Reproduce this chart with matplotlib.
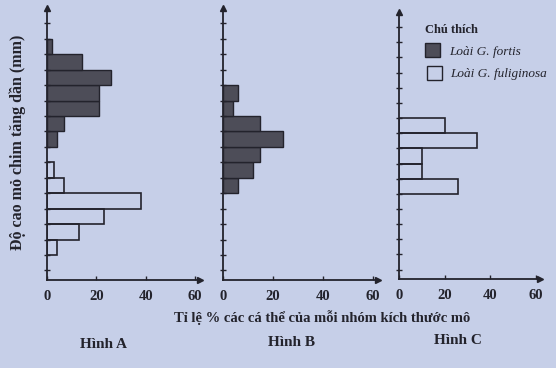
import matplotlib.pyplot as plt
from matplotlib.patches import Rectangle

# bin index 0 = lowest beak-depth group, values in %
bins_a_fortis = [7, 8, 9, 10, 11, 12, 13]
vals_a_fortis = [4, 7, 21, 21, 26, 14, 2]
bins_a_fulig = [0, 1, 2, 3, 4, 5]
vals_a_fulig = [4, 13, 23, 38, 7, 3]

bins_b_fortis = [4, 5, 6, 7, 8, 9, 10]
vals_b_fortis = [6, 12, 15, 24, 15, 4, 6]

bins_c_fulig = [4, 5, 6, 7, 8]
vals_c_fulig = [26, 10, 10, 34, 20]

xticks = [0, 20, 40, 60]
panel_titles = ["Hình A", "Hình B", "Hình C"]

BG = '#c6cfe8'
DARK = '#23232c'
FILL = '#4d4d58'
SERIF = 'Liberation Serif'

fig = plt.figure(figsize=(5.56, 3.68), dpi=100, facecolor=BG)
W, H = 556, 368


def make_axes(x0, px_per_unit, bottom=280, top=8):
    ax = fig.add_axes([x0 / W, (H - bottom) / H, 62 * px_per_unit / W, (bottom - top) / H])
    ax.set_facecolor('none')
    ax.set_xlim(0, 62)
    ax.set_ylim(-1.62, 16.0)
    for s in ['top', 'right']:
        ax.spines[s].set_visible(False)
    for s in ['left', 'bottom']:
        ax.spines[s].set_color(DARK)
        ax.spines[s].set_linewidth(1.3)
    ax.set_xticks(xticks)
    ax.set_xticklabels([str(t) for t in xticks], fontfamily=SERIF, fontweight='bold', fontsize=10.5, color=DARK)
    ax.tick_params(axis='x', direction='in', length=3, width=1, colors=DARK, pad=7)
    ax.set_yticks(range(-1, 16))
    ax.set_yticklabels([])
    ax.tick_params(axis='y', direction='inout', length=4, width=1, colors=DARK)
    # arrow heads
    ax.plot(1, 0, '>', color=DARK, markersize=5, transform=ax.transAxes, clip_on=False)
    ax.plot(0, 1, '^', color=DARK, markersize=5, transform=ax.transAxes, clip_on=False)
    return ax


ax_a = make_axes(47, 2.47)
ax_b = make_axes(222.7, 2.5)
ax_c = make_axes(399, 2.28, bottom=279, top=12)

ax_a.barh(bins_a_fortis, vals_a_fortis, height=1, align='edge', color=FILL, edgecolor=DARK, linewidth=1)
ax_a.barh(bins_a_fulig, vals_a_fulig, height=1, align='edge', facecolor='none', edgecolor=DARK, linewidth=1.2)
ax_b.barh(bins_b_fortis, vals_b_fortis, height=1, align='edge', color=FILL, edgecolor=DARK, linewidth=1)
ax_c.barh(bins_c_fulig, vals_c_fulig, height=1, align='edge', facecolor='none', edgecolor=DARK, linewidth=1.2)

# axis titles
fig.text(18 / W, 1 - 142 / H, "Độ cao mỏ chim tăng dần (mm)", rotation=90, ha='center', va='center',
         fontfamily=SERIF, fontweight='bold', fontsize=11.5, color=DARK)
fig.text(322 / W, 1 - 318 / H, "Tỉ lệ % các cá thể của mỗi nhóm kích thước mô", ha='center', va='center',
         fontfamily=SERIF, fontweight='bold', fontsize=10.5, color=DARK)
for (xc, yc), t in zip([(104, 345), (292, 343), (458, 340)], panel_titles):
    fig.text(xc / W, 1 - yc / H, t, ha='center', va='center',
             fontfamily=SERIF, fontweight='bold', fontsize=11, color=DARK)

# legend
fig.text(425 / W, 1 - 30 / H, "Chú thích", ha='left', va='center',
         fontfamily=SERIF, fontweight='bold', fontsize=9, color=DARK)
fig.patches.append(Rectangle((425 / W, 1 - 57 / H), 15 / W, 14 / H, transform=fig.transFigure,
                             facecolor=FILL, edgecolor=DARK, linewidth=1))
fig.patches.append(Rectangle((427 / W, 1 - 80 / H), 15 / W, 14 / H, transform=fig.transFigure,
                             facecolor='none', edgecolor=DARK, linewidth=1))
fig.text(449 / W, 1 - 52 / H, "Loài G. fortis", ha='left', va='center',
         fontfamily=SERIF, fontstyle='italic', fontsize=9.5, color=DARK)
fig.text(450 / W, 1 - 74 / H, "Loài G. fuliginosa", ha='left', va='center',
         fontfamily=SERIF, fontstyle='italic', fontsize=9.5, color=DARK)

fig.savefig('out.png', dpi=100, facecolor=BG)
